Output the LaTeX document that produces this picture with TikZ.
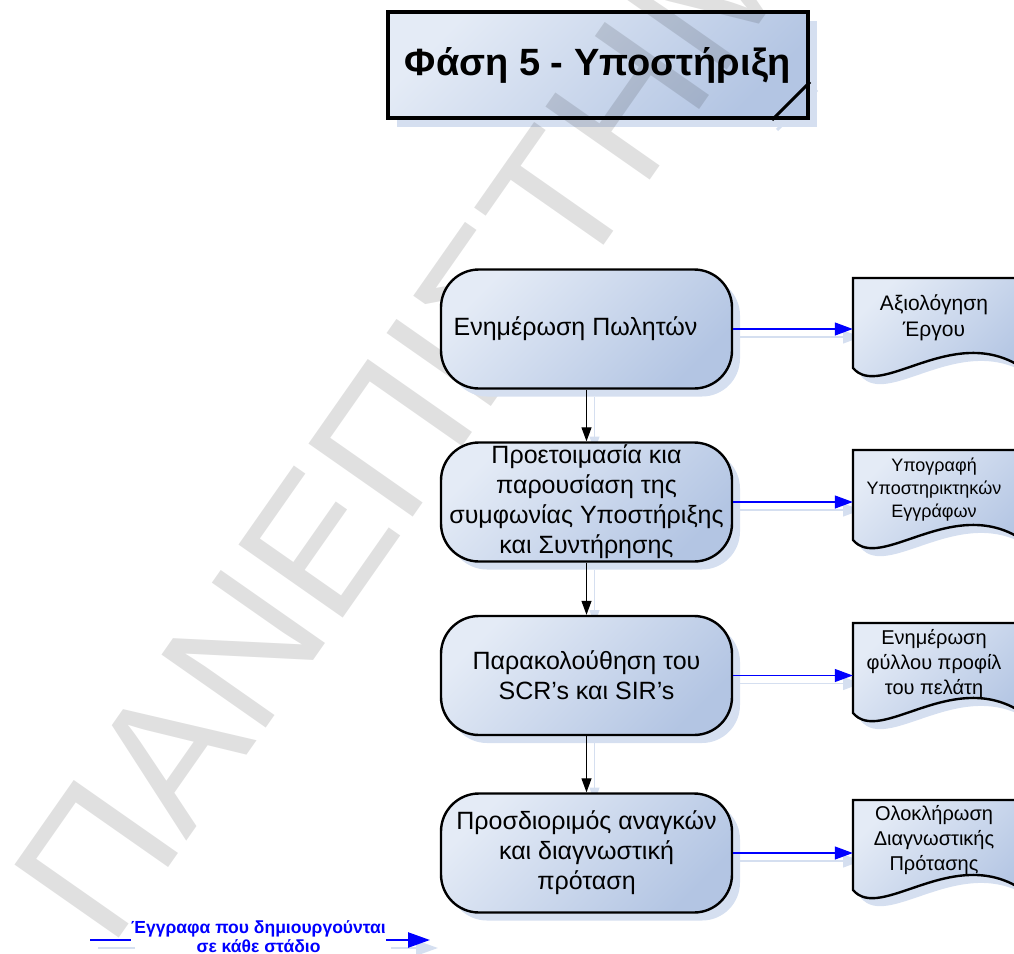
\documentclass[tikz,border=0pt]{standalone}
\usepackage{fontspec}
\setmainfont{Liberation Sans}
\usetikzlibrary{arrows.meta,shadows,calc}

\definecolor{gl}{HTML}{E4EBF6}
\definecolor{gd}{HTML}{B3C5E3}
\definecolor{shadowc}{HTML}{D5DFF0}
\definecolor{docblue}{HTML}{0000FF}

\tikzset{
  gradfill/.style={top color=gl, bottom color=gd, shading angle=45},
  boxshadow/.style={drop shadow={shadow xshift=8pt, shadow yshift=-8pt, fill=shadowc, opacity=1}},
  titlebox/.style={draw=black, line width=4pt, gradfill, minimum width=420pt, minimum height=106pt,
    inner sep=0pt, font=\fontsize{38}{44}\selectfont\bfseries},
  process/.style={draw=black, line width=2.4pt, rounded corners=38pt, gradfill, boxshadow,
    minimum width=291pt, minimum height=119pt, align=center, inner sep=0pt,
    font=\fontsize{25}{30}\selectfont},
  docpath/.style={draw=black, line width=2.4pt, gradfill, boxshadow},
  doctext/.style={minimum width=162pt, minimum height=80pt, align=center, inner sep=0pt,
    font=\fontsize{20}{25}\selectfont},
  flowarrow/.style={draw=black, line width=1.2pt, -{Triangle[length=14pt,width=10pt]}},
  docarrow/.style={draw=docblue, line width=1.2pt, -{Triangle[length=18pt,width=13pt]}},
  cshadow/.style={draw=shadowc, transform canvas={shift={(8,8)}}},
  legendline/.style={draw=docblue, line width=2.5pt},
  legendarrow/.style={draw=docblue, line width=2.5pt, -{Triangle[length=22pt,width=15pt]}},
  legendtext/.style={text=docblue, align=center, inner sep=0pt,
    font=\fontsize{17.5}{19}\selectfont\bfseries},
  watermark/.style={text=black, text opacity=0.12, inner sep=0pt,
    font=\fontsize{185}{185}\selectfont},
}

\begin{document}
\begin{tikzpicture}[x=1pt, y=-1pt]
  \useasboundingbox (0,0) rectangle (1014,953);
  \clip (0,0) rectangle (1014,953);

  % title plate with its shadow and folded corner
  \fill[shadowc] (397,21) rectangle (817,127);
  \draw[shadowc, line width=3pt] (777,130) -- (817,90);
  \node[titlebox] (title) at (598,65) {Φάση 5 - Υποστήριξη};
  \draw[line width=3pt] ($(title.south east)+(-38,0)$) -- ($(title.south east)+(0,-38)$);

  % watermark
  \node[watermark, rotate=55, anchor=base west] (wm) at (110,951) {ΠΑΝΕΠΙΣΤΗΜΙΟ};

  % shadows of the connectors
  \draw[cshadow, line width=1.2pt, -{Triangle[length=14pt,width=10pt]}] (586.5,388.5) -- (586.5,442.5);
  \draw[cshadow, line width=1.2pt, -{Triangle[length=14pt,width=10pt]}] (586.5,561.5) -- (586.5,616);
  \draw[cshadow, line width=1.2pt, -{Triangle[length=14pt,width=10pt]}] (586.5,735) -- (586.5,793.5);
  \foreach \y in {329,502,675.5,853}
    \draw[cshadow, line width=1.2pt, -{Triangle[length=18pt,width=13pt]}] (732,\y) -- (853,\y);

  % document shapes on the right
  \foreach \t in {278,450,623,800}
    \path[docpath] (853,\t) -- (1018,\t) -- (1018,{\t+87})
      .. controls (950,{\t+47}) and (880,{\t+122}) .. (853,{\t+90}) -- cycle;

  \node[doctext, font=\fontsize{21}{26}\selectfont] (d1) at (934,318) {Αξιολόγηση\\Έργου};
  \node[doctext, font=\fontsize{18}{23}\selectfont] (d2) at (934,490) {Υπογραφή\\Υποστηρικτηκών\\Εγγράφων};
  \node[doctext] (d3) at (934,664) {Ενημέρωση\\φύλλου προφίλ\\του πελάτη};
  \node[doctext] (d4) at (934,840) {Ολοκλήρωση\\Διαγνωστικής\\Πρότασης};

  % process steps
  \node[process] (b1) at (586.5,329) {Ενημέρωση Πωλητών\hspace*{22pt}};
  \node[process] (b2) at (586.5,502) {Προετοιμασία κια\\παρουσίαση της\\συμφωνίας Υποστήριξης\\και Συντήρησης};
  \node[process] (b3) at (586.5,675.5) {Παρακολούθηση του\\SCR’s και SIR’s};
  \node[process] (b4) at (586.5,853) {Προσδιοριμός αναγκών\\και διαγνωστική\\πρόταση};

  % flow between steps
  \draw[flowarrow] (b1.south) -- (b2.north);
  \draw[flowarrow] (b2.south) -- (b3.north);
  \draw[flowarrow] (b3.south) -- (b4.north);

  % documents produced by each step
  \draw[docarrow] (b1.east) -- (b1.east -| d1.west);
  \draw[docarrow] (b2.east) -- (b2.east -| d2.west);
  \draw[docarrow] (b3.east) -- (b3.east -| d3.west);
  \draw[docarrow] (b4.east) -- (b4.east -| d4.west);

  % legend
  \coordinate (lgl) at (90,940);
  \coordinate (lgr) at (430,940);
  \draw[shadowc, line width=2.5pt] (98,948) -- (135,948);
  \draw[shadowc, line width=2.5pt, -{Triangle[length=22pt,width=15pt]}] (391,948) -- (438,948);
  \node[legendtext] (lg) at (258.5,937) {Έγγραφα που δημιουργούνται\\σε κάθε στάδιο};
  \draw[legendline] (lgl) -- (lgl -| lg.west);
  \draw[legendarrow] (lgl -| lg.east) -- (lgr);
\end{tikzpicture}
\end{document}
